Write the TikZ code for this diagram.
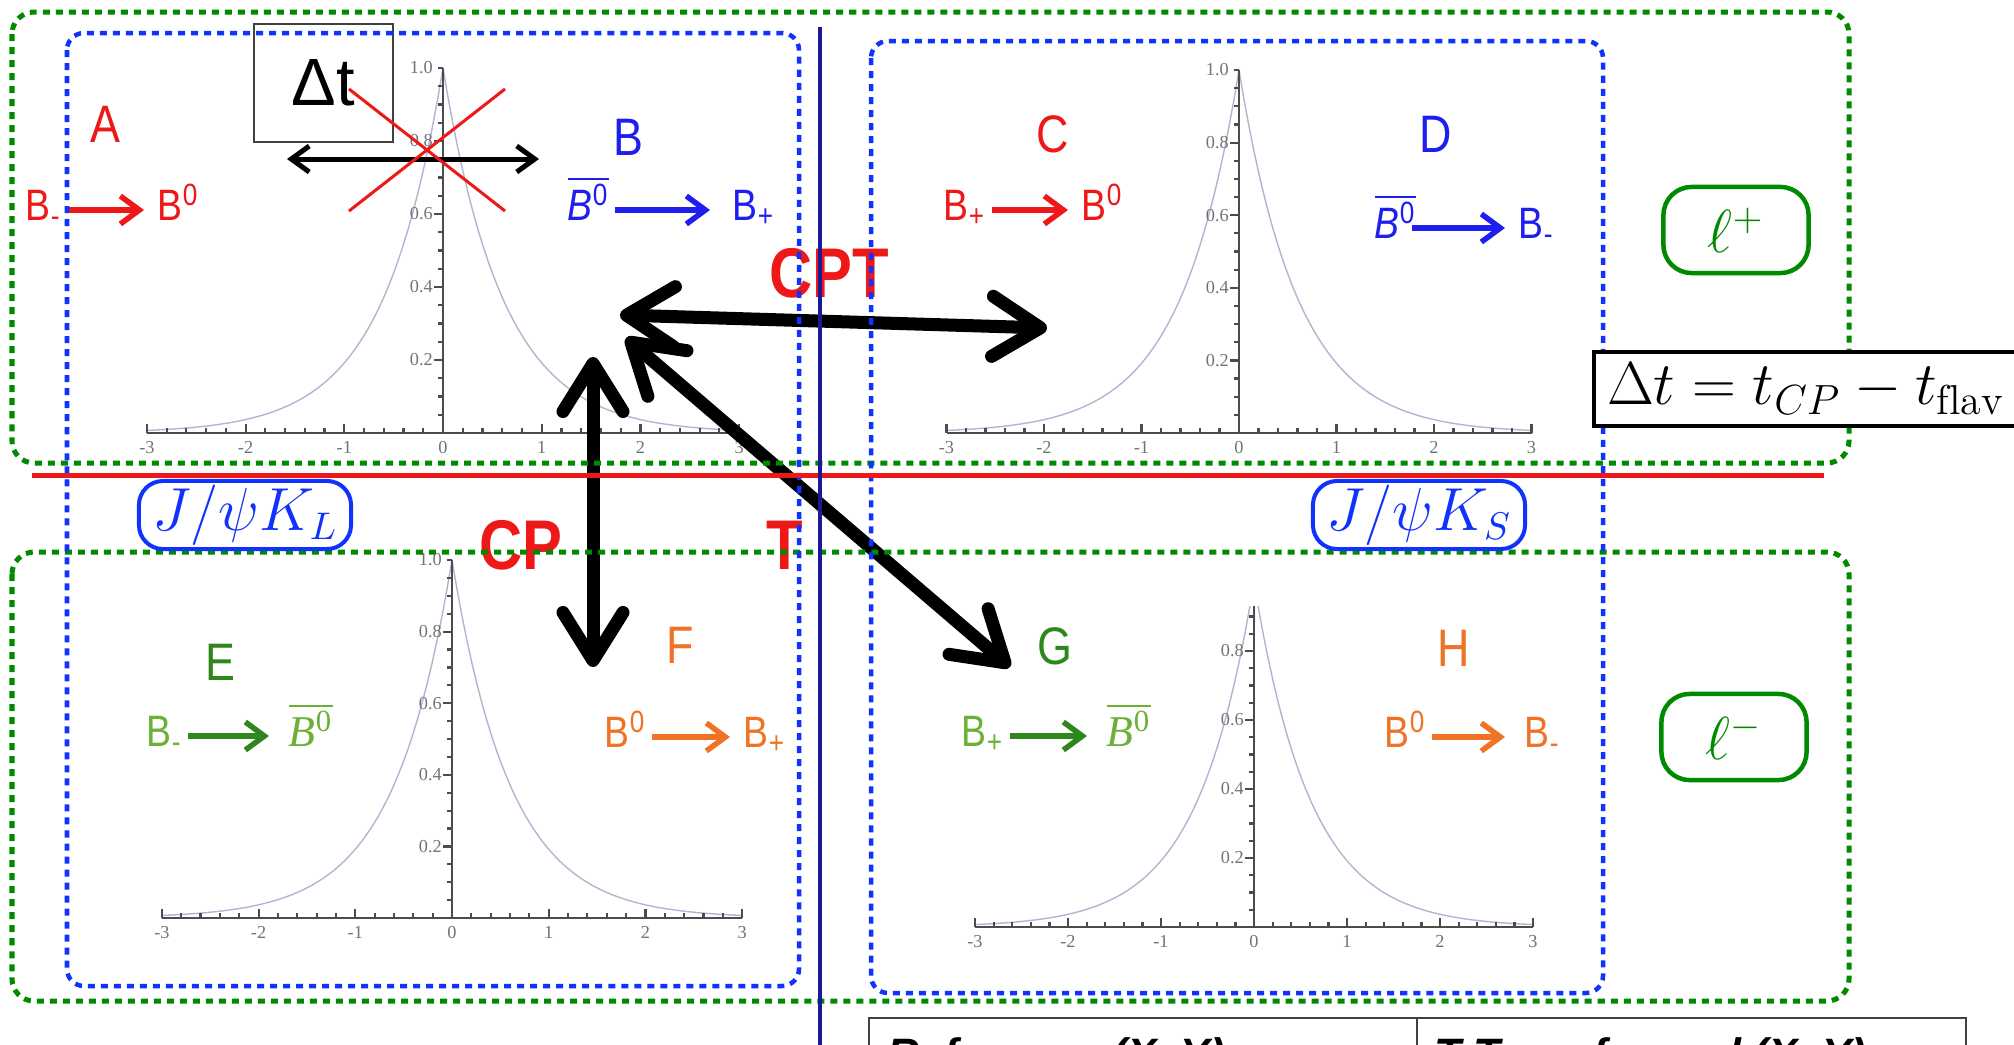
\documentclass[tikz,border=0pt]{standalone}
\usepackage{fontspec}
\usepackage{tikz}
\usetikzlibrary{arrows.meta}

\newfontfamily\condsf{Liberation Sans}[FakeStretch=0.85]
\newfontfamily\plainsf{Liberation Sans}
\newfontfamily\ticksf{Liberation Serif}

\definecolor{redlab}{RGB}{238,24,24}
\definecolor{bluelab}{RGB}{30,30,240}
\definecolor{greenlab}{RGB}{46,135,28}
\definecolor{lightgreen}{RGB}{108,176,56}
\definecolor{orangelab}{RGB}{240,114,36}
\definecolor{boxgreen}{RGB}{0,138,0}
\definecolor{boxblue}{RGB}{15,50,255}
\definecolor{navyline}{RGB}{25,25,150}
\definecolor{curvecol}{RGB}{180,180,210}

\newcommand{\Bbar}{$\overline{\mbox{\itshape B\textsuperscript{\upshape 0}}}$}

\tikzset{
  letter/.style={font=\condsf\fontsize{15}{18}\selectfont, inner sep=0pt},
  react/.style={font=\condsf\fontsize{12.5}{14}\selectfont, inner sep=1.5pt,
    text height=8.8pt, text depth=2.8pt, anchor=west},
  rarrow/.style={line width=0.055cm, shorten >=0.08cm,
    -{Straight Barb[length=0.19cm,width=0.28cm]}},
  dtarrow/.style={line width=0.05cm,
    {Straight Barb[length=0.18cm,width=0.26cm]}-{Straight Barb[length=0.18cm,width=0.26cm]}},
  bigarrow/.style={line width=0.13cm, line cap=round,
    {Straight Barb[length=0.48cm,width=0.6cm,round]}-{Straight Barb[length=0.48cm,width=0.6cm,round]}},
  sym/.style={font=\condsf\bfseries\fontsize{20}{24}\selectfont, text=redlab, inner sep=0pt},
  gbox/.style={draw=boxgreen, line width=0.05cm, dash pattern=on 0.07cm off 0.06cm,
    rounded corners=0.22cm},
  bbox/.style={draw=boxblue, line width=0.045cm, dash pattern=on 0.07cm off 0.06cm,
    rounded corners=0.17cm},
  lepton/.style={draw=boxgreen, text=boxgreen, line width=0.045cm, rounded corners=0.28cm,
    minimum width=1.45cm, minimum height=0.86cm, fill=white, font=\fontsize{16}{19}\selectfont},
  psi/.style={draw=boxblue, text=boxblue, line width=0.04cm, rounded corners=0.24cm,
    minimum width=2.12cm, minimum height=0.68cm, inner sep=0pt, fill=white,
    font=\fontsize{16}{19}\selectfont},
  dtbox/.style={draw=black!75, line width=0.02cm, minimum width=1.39cm, minimum height=1.18cm,
    inner sep=0pt, font=\plainsf\fontsize{19}{22}\selectfont},
  dtformula/.style={draw, line width=0.04cm, fill=white, anchor=west, inner xsep=0.13cm,
    minimum height=0.74cm, font=\fontsize{17}{20}\selectfont},
  axis/.style={draw=black!70, line width=0.022cm},
  ticklab/.style={font=\ticksf\fontsize{5.2}{6}\selectfont, text=black!55, inner sep=1pt},
  tabline/.style={draw=black!75, line width=0.025cm},
  tabhead/.style={anchor=base west, inner sep=0pt, font=\plainsf\bfseries\itshape\fontsize{12.5}{15}\selectfont}
}

\begin{document}
\begin{tikzpicture}[x=0.01cm, y=-0.01cm]
    \fill[white] (0,0) rectangle (2014,1045);
    \useasboundingbox (0,0) rectangle (2014,1045);

    % decay-time plots
    \foreach \ox/\oy/\ux/\uy/\ym in {443/433/98.7/365/1.02, 1239/433/97.5/363/1.02,
                                     452/918/96.7/358/1.02, 1254/927/93/345/0.93} {
        \begin{scope}
            \clip (\ox-330,\oy+30) rectangle (\ox+330,\oy-\uy*\ym);
            \draw[curvecol, line width=0.014cm, domain=-3:0, samples=60]
                plot ({\ox+\ux*\x},{\oy-\uy*exp(1.65*\x)});
            \draw[curvecol, line width=0.014cm, domain=0:3, samples=60]
                plot ({\ox+\ux*\x},{\oy-\uy*exp(-1.65*\x)});
            \draw[axis] (\ox-3*\ux,\oy) -- (\ox+3*\ux,\oy);
            \draw[axis] (\ox,\oy) -- (\ox,\oy-\uy);
            \foreach \n in {-15,...,15}
                \draw[axis] (\ox+\ux*\n/5,\oy) -- ++(0,-5);
            \foreach \n in {-3,...,3}
                \draw[axis] (\ox+\ux*\n,\oy) -- ++(0,-9);
            \foreach \n in {1,...,20}
                \draw[axis] (\ox,\oy-\uy*\n/20) -- ++(-5,0);
            \foreach \val in {0.2,0.4,0.6,0.8}
                \draw[axis] (\ox,\oy-\uy*\val) -- ++(-9,0);
        \end{scope}
        \foreach \val in {0.2,0.4,0.6,0.8}
            \node[ticklab, left] at (\ox-6,\oy-\uy*\val) {\val};
        \foreach \n in {-3,...,3}
            \node[ticklab, below] at (\ox+\ux*\n,\oy+4) {\n};
        \ifdim\ym pt>1pt
            \node[ticklab, left] at (\ox-6,\oy-\uy) {1.0};
        \fi
    }

    % panel letters
    \node[letter, text=redlab] (labA) at (105,124) {A};
    \node[letter, text=bluelab] (labB) at (628,137) {B};
    \node[letter, text=redlab] (labC) at (1053,134) {C};
    \node[letter, text=bluelab] (labD) at (1436,134) {D};
    \node[letter, text=greenlab] (labE) at (220,662) {E};
    \node[letter, text=orangelab] (labF) at (680,645) {F};
    \node[letter, text=greenlab] (labG) at (1055,646) {G};
    \node[letter, text=orangelab] (labH) at (1454,648) {H};

    % transitions
    \node[react, text=redlab] (A1) at (20,210) {B\textsubscript{-}};
    \node[react, text=redlab] (A2) at (152,210) {B\textsuperscript{0}};
    \draw[rarrow, redlab] (A1) -- (A2);

    \node[react, text=bluelab] (B1) at (562,210) {\Bbar};
    \node[react, text=bluelab] (B2) at (727,210) {B\textsubscript{+}};
    \draw[rarrow, bluelab, shorten >=0.17cm] (B1) -- (B2);

    \node[react, text=redlab] (C1) at (938,210) {B\textsubscript{+}};
    \node[react, text=redlab] (C2) at (1076,210) {B\textsuperscript{0}};
    \draw[rarrow, redlab] (C1) -- (C2);

    \node[react, text=bluelab] (D1) at (1369,228) {\Bbar};
    \node[react, text=bluelab] (D2) at (1513,228) {B\textsubscript{-}};
    \draw[rarrow, bluelab] (D1.east) ++(-10,0) -- (D2);

    \node[react, text=lightgreen] (E1) at (141,736) {B\textsubscript{-}};
    \node[react, text=lightgreen] (E2) at (283,736) {\ticksf\Bbar};
    \draw[rarrow, greenlab, shorten >=0.14cm] (E1) -- (E2);

    \node[react, text=orangelab] (F1) at (599,737) {B\textsuperscript{0}};
    \node[react, text=orangelab] (F2) at (738,737) {B\textsubscript{+}};
    \draw[rarrow, orangelab] (F1) -- (F2);

    \node[react, text=lightgreen] (G1) at (956,736) {B\textsubscript{+}};
    \node[react, text=lightgreen] (G2) at (1101,736) {\ticksf\Bbar};
    \draw[rarrow, greenlab, shorten >=0.14cm] (G1) -- (G2);

    \node[react, text=orangelab] (H1) at (1379,737) {B\textsuperscript{0}};
    \node[react, text=orangelab] (H2) at (1519,737) {B\textsubscript{-}};
    \draw[rarrow, orangelab, shorten >=0.14cm] (H1) -- (H2);

    % no time ordering
    \node[dtbox] (dt) at (323.5,83) {Δt\hspace{7pt}};
    \coordinate (dtL) at (287,159);
    \coordinate (dtR) at (539,159);
    \draw[dtarrow] (dtL) -- (dtR);
    \draw[redlab, line width=0.03cm] (349,89) -- (505,211) (505,89) -- (349,211);

    % symmetry transformations
    \node[sym] (cpt) at (829,273) {CPT};
    \node[sym] (cp) at (521,545) {CP};
    \node[sym] (tt) at (785,545) {T};
    \coordinate (cptL) at (620,315);
    \coordinate (cptR) at (1047,328);
    \coordinate (cpU) at (593,357);
    \coordinate (cpD) at (593,667);
    \coordinate (tU) at (626,338);
    \coordinate (tD) at (1010,667);
    \draw[bigarrow] (cptL) -- (cptR);
    \draw[bigarrow] (cpU) -- (cpD);
    \draw[bigarrow] (tU) -- (tD);

    % groupings
    \draw[gbox] (12,12) rectangle (1849,463);
    \draw[gbox] (12,552) rectangle (1849,1001);
    \draw[bbox] (67,33) rectangle (799,986);
    \draw[bbox] (871,41) rectangle (1603,993);
    \draw[redlab, line width=0.05cm] (32,475) -- (1824,475);
    \draw[navyline, line width=0.035cm] (820,27) -- (820,1045);

    \node[lepton] (lp) at (1736,230) {$\ell^+$};
    \node[lepton] (lm) at (1734,737) {$\ell^-$};
    \node[psi] (jkl) at (245,515) {$J/\psi K_L$};
    \node[psi] (jks) at (1419,515) {$J/\psi K_S$};
    \node[dtformula] (dtf) at (1592,389) {$\Delta t = t_{CP} - t_{\mathrm{flav}}$};

    % table head
    \draw[tabline] (869,1060) -- (869,1018) -- (1966,1018) -- (1966,1060);
    \draw[tabline] (1417,1018) -- (1417,1060);
    \node[tabhead] (refh) at (887,1069) {Reference (X, Y)};
    \node[tabhead] (trh) at (1434,1069) {T-Transformed (X, Y)};
\end{tikzpicture}
\end{document}
